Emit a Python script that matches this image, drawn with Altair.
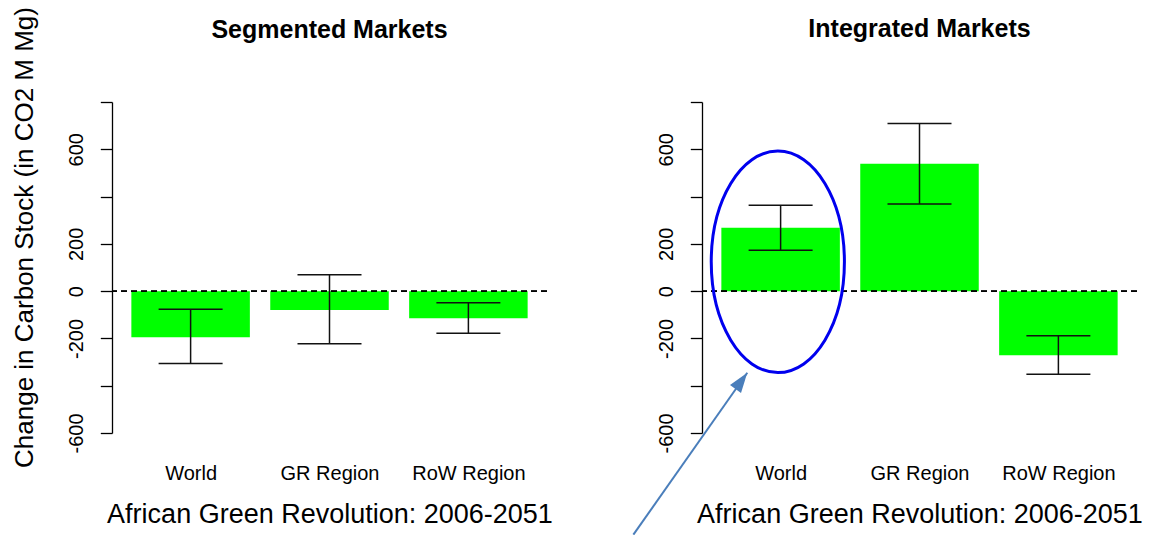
import altair as alt
import pandas as pd

# ---- data -------------------------------------------------------------
categories = ["World", "GR Region", "RoW Region"]
positions = [1, 2, 3]

seg_change = [-195, -80, -115]
seg_low = [-306, -222, -178]
seg_high = [-77, 69, -49]

int_change = [268, 539, -271]
int_low = [173, 369, -351]
int_high = [363, 709, -189]

y_ticks = [-600, -400, -200, 0, 200, 400, 600, 800]
y_labelled = [-600, -200, 0, 200, 600]

# call-out on the integrated panel (data coordinates)
ellipse_x = [0.98]
ellipse_y = [124]
arrow_from_x = [-0.06]
arrow_from_y = [-1030]
arrow_to_x = [0.76]
arrow_to_y = [-345]

FONT = "Liberation Sans"
GREEN = "#00ff00"
ARROW_BLUE = "#4a7ebb"

x_scale = alt.Scale(domain=[0.47, 3.53], nice=False, zero=False)
y_scale = alt.Scale(domain=[-600, 800], nice=False, zero=False)

x_label_expr = " : ".join(
    f"datum.value == {p} ? '{c}'" for p, c in zip(positions, categories)
) + " : ''"
y_label_expr = (
    "indexof([" + ",".join(str(v) for v in y_labelled) + "], datum.value) >= 0"
    " ? toString(datum.value) : ''"
)

# ellipse outline as four cubic segments inside the unit square
K = 0.5523
RX = 0.601
ELLIPSE = (
    f"M 0 -1 C {K*RX:.4f} -1 {RX} {-K:.4f} {RX} 0 "
    f"C {RX} {K:.4f} {K*RX:.4f} 1 0 1 "
    f"C {-K*RX:.4f} 1 {-RX} {K:.4f} {-RX} 0 "
    f"C {-RX} {-K:.4f} {-K*RX:.4f} -1 0 -1 Z"
)
ARROW_HEAD = "M 0 0 L -0.34 1 L 0.34 1 Z"


def panel(change, low, high, y_title):
    df = pd.DataFrame(
        {"pos": positions, "region": categories,
         "change": change, "low": low, "high": high}
    )
    x_axis = alt.Axis(
        values=positions, labelExpr=x_label_expr, ticks=False, tickSize=0,
        domain=False, grid=False, labelAngle=0, labelFont=FONT,
        labelFontSize=20, labelColor="black", labelBaseline="alphabetic",
        labelPadding=46, labelFlush=False, labelOverlap=False,
        title="African Green Revolution: 2006-2051", titleFont=FONT,
        titleFontSize=27, titleFontWeight="normal", titleColor="black",
        titleBaseline="alphabetic", titleY=89,
    )
    y_kwargs = dict(
        values=y_ticks, labelExpr=y_label_expr, grid=False,
        tickSize=11.7, tickWidth=1.3, tickColor="black",
        domainColor="black", domainWidth=1.3,
        labelAngle=270, labelAlign="center", labelBaseline="alphabetic",
        labelPadding=18, labelFont=FONT, labelFontSize=20,
        labelColor="black", labelOverlap=False, labelFlush=False,
    )
    if y_title:
        y_axis = alt.Axis(
            title=y_title, titleFont=FONT, titleFontSize=26,
            titleFontWeight="normal", titleColor="black", titleAngle=270,
            titleAlign="center", titleBaseline="alphabetic",
            titleX=-80, titleY=135, **y_kwargs,
        )
    else:
        y_axis = alt.Axis(title="", **y_kwargs)

    base = alt.Chart(df)
    bars = base.mark_bar(color=GREEN, size=118.5, orient="vertical").encode(
        x=alt.X("pos:Q", scale=x_scale, axis=x_axis),
        y=alt.Y("change:Q", scale=y_scale, axis=y_axis),
        y2=alt.datum(0),
    )
    zero_line = base.mark_rule(
        color="black", strokeWidth=1.3, strokeDash=[6, 4]
    ).encode(y=alt.datum(0))
    whisker = base.mark_rule(color="#111111", strokeWidth=1.5).encode(
        x="pos:Q", y="low:Q", y2="high:Q"
    )
    cap_low = base.mark_tick(
        orient="horizontal", size=64, thickness=1.5, color="#111111", opacity=1
    ).encode(x="pos:Q", y="low:Q")
    cap_high = base.mark_tick(
        orient="horizontal", size=64, thickness=1.5, color="#111111", opacity=1
    ).encode(x="pos:Q", y="high:Q")

    return [bars, zero_line, whisker, cap_low, cap_high]


seg_layers = panel(seg_change, seg_low, seg_high,
                   "Change in Carbon Stock (in CO2 M Mg)")
int_layers = panel(int_change, int_low, int_high, None)

ellipse = alt.Chart(pd.DataFrame({"x": ellipse_x, "y": ellipse_y})).mark_point(
    shape=ELLIPSE, size=49100, filled=False, stroke="#0000ee",
    strokeWidth=3, opacity=1,
).encode(x="x:Q", y="y:Q")

arrow_df = pd.DataFrame(
    {"x": arrow_from_x, "y": arrow_from_y, "x2": arrow_to_x, "y2": arrow_to_y}
)
arrow_shaft = alt.Chart(arrow_df).mark_rule(
    color=ARROW_BLUE, strokeWidth=2
).encode(x="x:Q", y="y:Q", x2="x2:Q", y2="y2:Q")
arrow_head = alt.Chart(arrow_df).mark_point(
    shape=ARROW_HEAD, size=1600, angle=36, filled=True,
    color=ARROW_BLUE, opacity=1,
).encode(x="x2:Q", y="y2:Q")


def title_params(text, offset):
    # offset is measured from the top of the panel's content bounds
    return alt.TitleParams(
        text=text, font=FONT, fontSize=25, fontWeight="bold", color="black",
        anchor="middle", baseline="alphabetic", offset=offset,
    )


left = alt.layer(*seg_layers).properties(
    width=435, height=331, title=title_params("Segmented Markets", -56)
)
right = alt.layer(*int_layers, ellipse, arrow_shaft, arrow_head).properties(
    width=435, height=331, title=title_params("Integrated Markets", 39)
)

chart = (
    alt.hconcat(left, right, spacing=155, bounds="flush")
    .properties(padding={"left": 10, "top": 6, "right": 0, "bottom": 0},
                background="white")
    .configure_view(strokeWidth=0)
)

chart.save("out.html", embed_options={"renderer": "svg", "actions": False})
